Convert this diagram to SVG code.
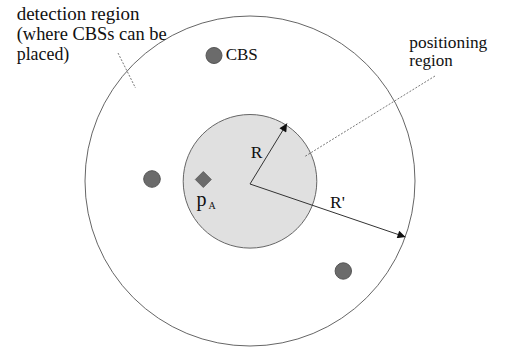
<svg xmlns="http://www.w3.org/2000/svg" width="505" height="353" viewBox="0 0 505 353">
<style>
text{font-family:Liberation Serif,Times New Roman,serif;fill:#111}
.dot{fill:#6b6b6b;stroke:#555;stroke-width:1}
.lead{stroke:#555;stroke-width:0.8;stroke-dasharray:2,1.5;fill:none}
.arr{stroke:#333;stroke-width:1;fill:none;marker-end:url(#ah)}
</style>
<defs>
<marker id="ah" viewBox="0 0 10 10" refX="10" refY="5" markerWidth="10" markerHeight="8" markerUnits="userSpaceOnUse" orient="auto">
<path d="M0,0 L10,5 L0,10 z" fill="#111"/>
</marker>
</defs>
<g id="detection-region">
<circle cx="250" cy="181" r="165" fill="none" stroke="#666" stroke-width="1"/>
</g>
<g id="positioning-region">
<circle cx="250" cy="181.3" r="66.8" fill="#e0e0e0" stroke="#666" stroke-width="1"/>
</g>
<g id="cbs-top"><circle class="dot" cx="214" cy="55.5" r="8"/><text x="225.7" y="60" font-size="17">CBS</text></g>
<g id="cbs-left"><circle class="dot" cx="152" cy="179" r="8.3"/></g>
<g id="cbs-bottom"><circle class="dot" cx="343.3" cy="271" r="8.2"/></g>
<g id="pA">
<path d="M203.3,171.5 L211.3,179.5 L203.3,187.5 L195.3,179.5 z" fill="#6b6b6b" stroke="#555" stroke-width="0.8"/>
<text x="196.5" y="206" font-size="20">p</text>
<text x="208.5" y="209" font-size="10">A</text>
</g>
<g id="labels">
<text x="16.7" y="19.5" font-size="19" textLength="122.7" lengthAdjust="spacingAndGlyphs">detection region</text>
<text x="16.7" y="40" font-size="19" textLength="150" lengthAdjust="spacingAndGlyphs">(where CBSs can be</text>
<text x="16.7" y="60" font-size="19" textLength="52.6" lengthAdjust="spacingAndGlyphs">placed)</text>
<text x="409.3" y="47.5" font-size="17" textLength="78" lengthAdjust="spacingAndGlyphs">positioning</text>
<text x="409.3" y="66" font-size="17">region</text>
<text x="250.7" y="157.7" font-size="17.5">R</text>
<text x="330" y="207.5" font-size="17.5">R'</text>
</g>
<g id="connectors">
<line class="lead" x1="118" y1="53" x2="135.5" y2="88"/>
<line class="lead" x1="435" y1="76" x2="304" y2="157"/>
<line class="arr" x1="250" y1="184" x2="287" y2="123.5"/>
<line class="arr" x1="250" y1="184" x2="405.5" y2="237"/>
</g>
</svg>
